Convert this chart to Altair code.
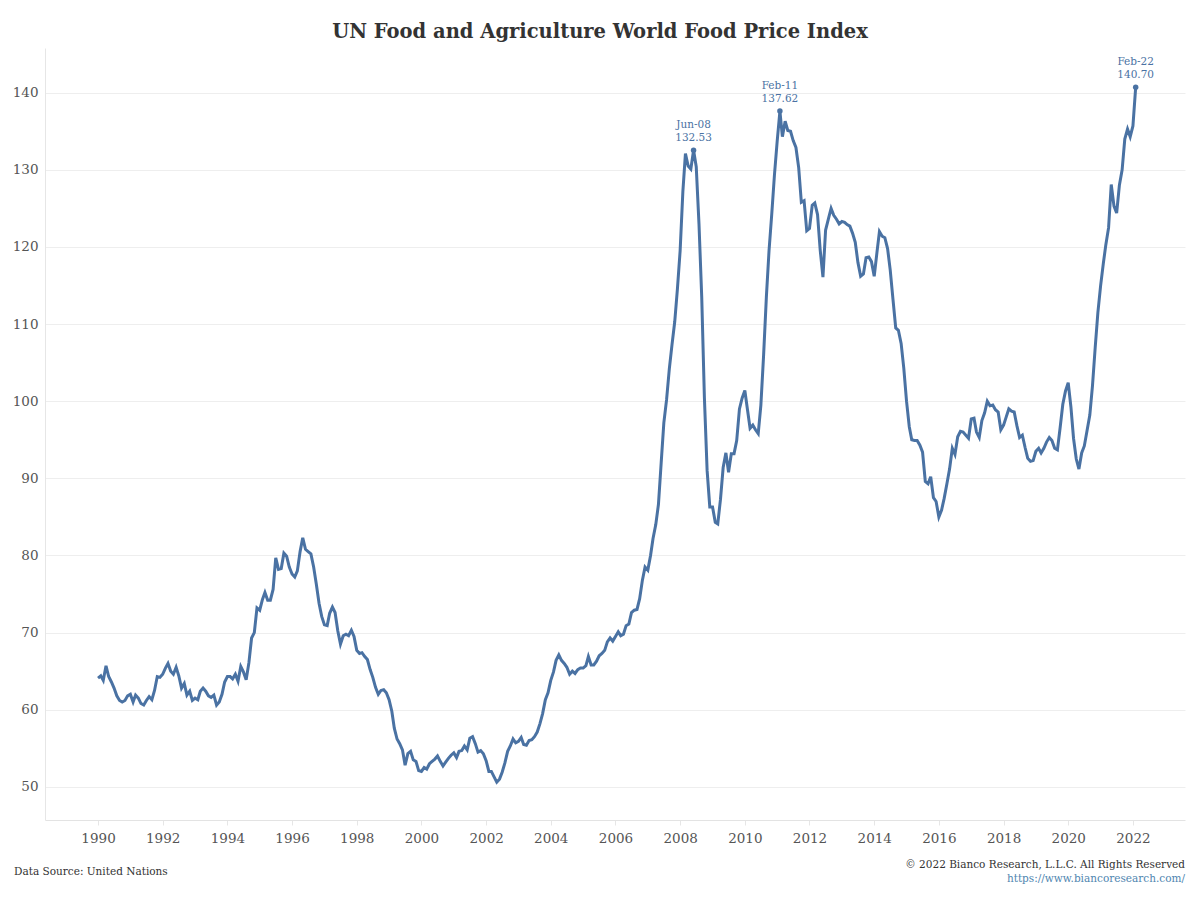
import altair as alt
import pandas as pd

# FAO World Food Price Index, monthly values
y1990 = [64.1, 64.4, 63.8, 65.7, 64.3, 63.6, 62.8, 61.8, 61.2, 61.0, 61.2, 61.8]
y1991 = [62.0, 61.0, 61.9, 61.5, 60.8, 60.6, 61.2, 61.7, 61.3, 62.5, 64.3, 64.2]
y1992 = [64.6, 65.4, 66.0, 65.0, 64.6, 65.5, 64.4, 62.8, 63.4, 61.9, 62.4, 61.2]
y1993 = [61.5, 61.3, 62.4, 62.8, 62.4, 61.8, 61.6, 61.9, 60.6, 61.0, 62.0, 63.6]
y1994 = [64.3, 64.3, 64.0, 64.6, 63.7, 65.6, 64.9, 63.9, 66.1, 69.3, 70.0, 73.2]
y1995 = [72.9, 74.3, 75.2, 74.2, 74.2, 75.6, 79.7, 78.2, 78.3, 80.3, 79.9, 78.5]
y1996 = [77.6, 77.2, 78.0, 80.5, 82.3, 80.8, 80.5, 80.2, 78.5, 76.3, 73.8, 72.1]
y1997 = [71.0, 70.9, 72.5, 73.3, 72.6, 70.2, 68.5, 69.6, 69.8, 69.6, 70.3, 69.5]
y1998 = [67.7, 67.3, 67.4, 66.9, 66.5, 65.2, 64.2, 62.9, 62.0, 62.5, 62.6, 62.2]
y1999 = [61.3, 59.8, 57.6, 56.2, 55.6, 54.8, 52.8, 54.3, 54.6, 53.5, 53.3, 52.1]
y2000 = [52.0, 52.5, 52.3, 53.0, 53.3, 53.6, 54.0, 53.3, 52.7, 53.2, 53.7, 54.1]
y2001 = [54.4, 53.8, 54.6, 54.7, 55.3, 54.8, 56.3, 56.5, 55.6, 54.5, 54.7, 54.3]
y2002 = [53.4, 52.0, 52.0, 51.3, 50.6, 51.0, 51.9, 53.1, 54.6, 55.3, 56.2, 55.7]
y2003 = [55.9, 56.4, 55.5, 55.4, 56.0, 56.1, 56.5, 57.1, 58.2, 59.5, 61.3, 62.2]
y2004 = [63.8, 64.9, 66.4, 67.1, 66.4, 66.0, 65.5, 64.6, 65.0, 64.7, 65.2, 65.4]
y2005 = [65.4, 65.7, 66.9, 65.8, 65.8, 66.3, 67.0, 67.3, 67.7, 68.8, 69.3, 68.9]
y2006 = [69.5, 70.1, 69.6, 69.8, 70.9, 71.1, 72.6, 72.9, 73.0, 74.4, 76.8, 78.5]
y2007 = [78.1, 80.0, 82.2, 84.0, 86.6, 92.0, 97.2, 100.2, 104.2, 107.3, 110.3, 114.5]
y2008 = [119.5, 127.2, 132.1, 130.5, 130.1, 132.53, 130.4, 123.0, 113.5, 100.5, 91.0, 86.3]
y2009 = [86.3, 84.3, 84.1, 87.3, 91.4, 93.3, 90.8, 93.2, 93.2, 94.9, 99.0, 100.4]
y2010 = [101.4, 98.8, 96.5, 96.9, 96.3, 95.8, 99.5, 106.0, 113.5, 119.5, 124.3, 129.3]
y2011 = [133.7, 137.62, 134.3, 136.3, 135.1, 135.0, 133.8, 132.9, 130.3, 125.8, 126.0, 122.1]
y2012 = [122.4, 125.4, 125.7, 124.2, 119.6, 116.1, 122.2, 123.6, 125.0, 124.1, 123.6, 123.0]
y2013 = [123.3, 123.2, 122.9, 122.7, 121.8, 120.6, 118.0, 116.2, 116.5, 118.6, 118.7, 118.1]
y2014 = [116.2, 119.3, 122.0, 121.4, 121.2, 119.8, 117.0, 113.2, 109.5, 109.2, 107.5, 104.3]
y2015 = [100.0, 96.7, 95.0, 94.9, 94.9, 94.3, 93.4, 89.6, 89.3, 90.2, 87.5, 87.0]
y2016 = [85.0, 85.9, 87.4, 89.3, 91.2, 93.9, 93.1, 95.4, 96.1, 96.0, 95.6, 95.2]
y2017 = [97.7, 97.8, 96.0, 95.3, 97.5, 98.5, 100.0, 99.4, 99.5, 98.9, 98.6, 96.3]
y2018 = [96.9, 98.0, 99.0, 98.7, 98.6, 96.8, 95.3, 95.6, 94.0, 92.6, 92.2, 92.3]
y2019 = [93.5, 93.9, 93.3, 93.9, 94.7, 95.3, 94.9, 93.9, 93.7, 96.5, 99.6, 101.3]
y2020 = [102.4, 99.2, 95.2, 92.5, 91.2, 93.3, 94.2, 96.2, 98.2, 102.0, 107.0, 111.5]
y2021 = [115.0, 117.9, 120.3, 122.5, 128.1, 125.3, 124.4, 128.0, 130.0, 134.0, 135.3, 134.3]
y2022 = [135.7, 140.70]

values = (y1990 + y1991 + y1992 + y1993 + y1994 + y1995 + y1996 + y1997 + y1998
          + y1999 + y2000 + y2001 + y2002 + y2003 + y2004 + y2005 + y2006 + y2007
          + y2008 + y2009 + y2010 + y2011 + y2012 + y2013 + y2014 + y2015 + y2016
          + y2017 + y2018 + y2019 + y2020 + y2021 + y2022)
dates = pd.date_range("1990-01-01", periods=len(values), freq="MS").strftime("%Y-%m-%d")

df = pd.DataFrame({"date": dates, "value": values})

# Annotated peaks
ann_dates = ["2008-06-01", "2011-02-01", "2022-02-01"]
ann_labels = ["Jun-08", "Feb-11", "Feb-22"]
ann_values = [132.53, 137.62, 140.70]
ann = pd.DataFrame({
    "date": ann_dates,
    "value": ann_values,
    "label": ann_labels,
    "vtext": [f"{v:.2f}" for v in ann_values],
})

tick_years = list(range(1990, 2023, 2))
y_ticks = list(range(50, 141, 10))

FONT = "DejaVu Serif"
LINE_COLOR = "#4a72a3"

x_enc = alt.X(
    "date:T",
    scale=alt.Scale(
        type="utc",
        domain=[alt.DateTime(year=1988, month=5, date=12, utc=True),
                alt.DateTime(year=2023, month=8, date=12, utc=True)],
        nice=False,
    ),
    axis=alt.Axis(
        values=[alt.DateTime(year=y, month=1, date=1, utc=True) for y in tick_years],
        format="%Y",
        title=None,
        grid=False,
        domain=True,
        domainColor="#e3e3e3",
        ticks=True,
        tickColor="#e6e6e6",
        tickSize=5,
        labelFont=FONT,
        labelFontSize=13.5,
        labelColor="#555555",
        labelPadding=6,
    ),
)
y_enc = alt.Y(
    "value:Q",
    scale=alt.Scale(domain=[45.7, 145.8], nice=False, zero=False),
    axis=alt.Axis(
        values=y_ticks,
        title=None,
        grid=True,
        gridColor="#eeeeee",
        domain=True,
        domainColor="#e6e6e6",
        ticks=False,
        labelFont=FONT,
        labelFontSize=13.5,
        labelColor="#555555",
        labelPadding=7,
    ),
)

line = alt.Chart(df).mark_line(color=LINE_COLOR, strokeWidth=3).encode(x=x_enc, y=y_enc)

pts = alt.Chart(ann).mark_circle(color=LINE_COLOR, size=30, opacity=1).encode(
    x="date:T", y="value:Q"
)
t_date = alt.Chart(ann).mark_text(
    font=FONT, fontSize=10.5, color=LINE_COLOR, baseline="bottom", dy=-20
).encode(x="date:T", y="value:Q", text="label:N")
t_val = alt.Chart(ann).mark_text(
    font=FONT, fontSize=10.5, color=LINE_COLOR, baseline="bottom", dy=-7
).encode(x="date:T", y="value:Q", text="vtext:N")

foot = pd.DataFrame({"a": [1]})
src = alt.Chart(foot).mark_text(
    font=FONT, fontSize=10.5, color="#333333", align="left", baseline="middle"
).encode(x=alt.value(-31), y=alt.value(824), text=alt.value("Data Source: United Nations"))
copy = alt.Chart(foot).mark_text(
    font=FONT, fontSize=10.5, color="#333333", align="right", baseline="middle"
).encode(x=alt.value(1140), y=alt.value(817),
         text=alt.value("© 2022 Bianco Research, L.L.C. All Rights Reserved"))
url = alt.Chart(foot).mark_text(
    font=FONT, fontSize=10.5, color="#4f86b0", align="right", baseline="middle"
).encode(x=alt.value(1140), y=alt.value(831),
         text=alt.value("https://www.biancoresearch.com/"))

chart = alt.layer(line, pts, t_date, t_val, src, copy, url).properties(
    width=1140,
    height=772,
    autosize=alt.AutoSizeParams(type="none"),
    padding={"left": 45, "top": 48, "right": 15, "bottom": 80},
    background="white",
    title=alt.TitleParams(
        "UN Food and Agriculture World Food Price Index",
        font=FONT, fontSize=19.5, fontWeight="bold", color="#333333",
        anchor="middle", offset=6, dx=-15,
    ),
).configure_view(stroke=None)

chart.save("out.html", embed_options={"renderer": "svg", "actions": False})
